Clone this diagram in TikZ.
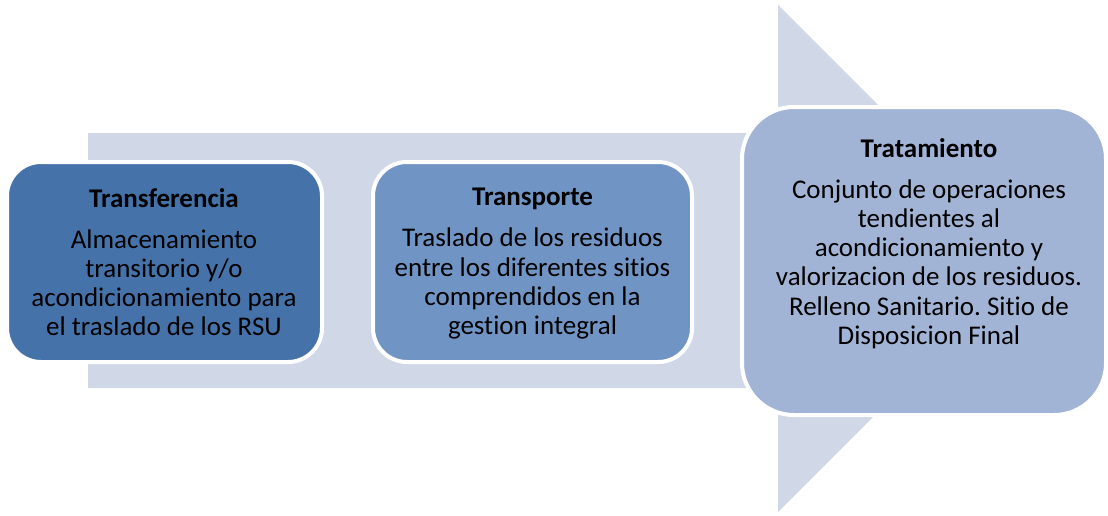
\documentclass[tikz,border=0pt]{standalone}
\usepackage{fontspec}
\setmainfont{Carlito}[Ligatures=NoCommon]
\definecolor{arrowfill}{HTML}{D0D8E8}
\definecolor{boxA}{HTML}{4672AA}
\definecolor{boxB}{HTML}{7094C4}
\definecolor{boxC}{HTML}{A2B4D6}
\tikzset{
  stagebox/.style={draw=white, line width=4pt, rounded corners=#1, inner sep=0pt},
  stagetext/.style={align=center, inner sep=0pt, anchor=north, text=black,
    font=\frenchspacing\fontsize{27}{29.2}\selectfont},
}
\newcommand{\stitle}[1]{{\bfseries #1}\\[12pt]}
\begin{document}
\begin{tikzpicture}[x=1pt, y=-1pt]
\useasboundingbox (0,0) rectangle (1108,515);
% background arrow
\fill[arrowfill] (88,133) -- (778,133) -- (778,5) -- (1032,258.5) -- (778,512) -- (778,388) -- (88,388) -- cycle;
% boxes
\path[stagebox=34pt, fill=boxA] (7,162) rectangle (322,362);
\node[inner sep=0pt] (b1) at (164.5,262) {};
\path[stagebox=34pt, fill=boxB] (373,162) rectangle (692,362);
\node[inner sep=0pt] (b2) at (532.5,262) {};
\path[stagebox=52pt, fill=boxC] (742,107) rectangle (1106,415);
\node[inner sep=0pt] (b3) at (924,261) {};
% texts
\node[stagetext] (t1) at (164,188) {\stitle{Transferencia}Almacenamiento\\transitorio y/o\\acondicionamiento para\\el traslado de los RSU};
\node[stagetext] (t2) at (532.5,188) {\stitle{Transporte}Traslado de los residuos\\entre los diferentes sitios\\comprendidos en la\\gestion integral};
\node[stagetext] (t3) at (929,138) {\stitle{Tratamiento}Conjunto de operaciones\\tendientes al\\acondicionamiento y\\valorizacion de los residuos.\\Relleno Sanitario. Sitio de\\Disposicion Final};
\end{tikzpicture}
\end{document}
